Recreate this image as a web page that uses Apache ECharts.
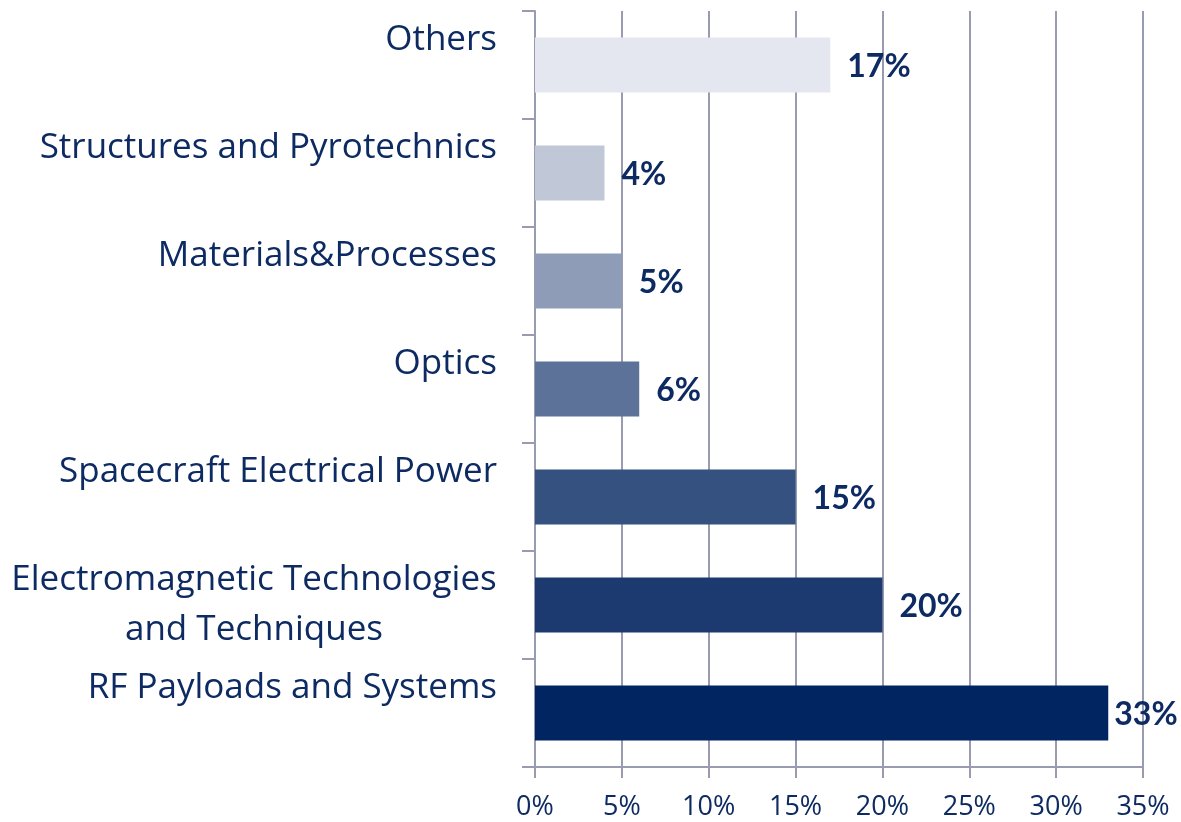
<!DOCTYPE html>
<html>
<head>
<meta charset="utf-8">
<script src="https://cdn.jsdelivr.net/npm/echarts@6/dist/echarts.min.js"></script>
<style>
html,body{margin:0;padding:0;background:#fff;}
#chart{width:1181px;height:822px;}
</style>
</head>
<body>
<div id="chart"></div>
<script>
// Categories listed bottom to top
var categories = [
  "RF Payloads and Systems",
  "Electromagnetic Technologies\nand Techniques",
  "Spacecraft Electrical Power",
  "Optics",
  "Materials&Processes",
  "Structures and Pyrotechnics",
  "Others"
];
var shares = [33, 20, 15, 6, 5, 4, 17];
var barColors = ["#002561", "#1c3a6f", "#34517f", "#5d7299", "#8e9cb8", "#c0c8d8", "#e4e7f0"];
var xTicks = [0, 5, 10, 15, 20, 25, 30, 35];

var navy = "#0d2b62";
var gridColor = "#999cb0";
var FONT = "Open Sans";
var VFONT = "Lato";

var chart = echarts.init(document.getElementById('chart'));

var yData = categories.map(function (c) {
  if (c.indexOf("\n") >= 0) {
    return { value: c, textStyle: { align: 'center', padding: [-46, 486, 0, 0] } };
  }
  return c;
});

chart.setOption({
  animation: false,
  grid: { left: 535, right: 38, top: 11, bottom: 55, containLabel: false },
  xAxis: {
    type: 'value',
    min: xTicks[0],
    max: xTicks[xTicks.length - 1],
    interval: xTicks[1] - xTicks[0],
    axisLine: { show: true, lineStyle: { color: gridColor, width: 2 } },
    axisTick: { show: true, length: 11, lineStyle: { color: gridColor, width: 2 } },
    splitLine: { show: true, lineStyle: { color: gridColor, width: 2 } },
    axisLabel: {
      formatter: '{value}%',
      color: navy,
      fontFamily: FONT,
      fontSize: 27,
      margin: 27
    }
  },
  yAxis: {
    type: 'category',
    data: yData,
    axisLine: { show: true, lineStyle: { color: gridColor, width: 2 } },
    axisTick: { show: true, length: 13, lineStyle: { color: gridColor, width: 2 } },
    axisLabel: {
      interval: 0,
      color: navy,
      fontFamily: FONT,
      fontSize: 35,
      lineHeight: 50,
      margin: 38,
      verticalAlign: 'top',
      padding: [-50, 0, 0, 0]
    }
  },
  series: [{
    type: 'bar',
    barWidth: 55,
    data: shares.map(function (v, i) {
      var d = { value: v, itemStyle: { color: barColors[i] } };
      if (v === 33) d.label = { distance: 6 };
      return d;
    }),
    label: {
      show: true,
      position: 'right',
      distance: 17,
      formatter: '{c}%',
      color: navy,
      fontFamily: VFONT,
      fontWeight: 'bold',
      fontSize: 32,
      offset: [0, 2]
    }
  }]
});
</script>
</body>
</html>
